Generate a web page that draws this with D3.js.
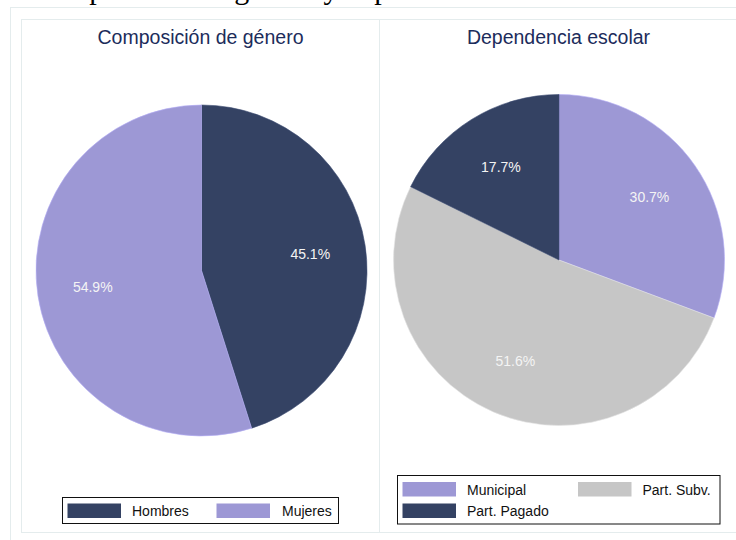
<!DOCTYPE html>
<html>
<head>
<meta charset="utf-8">
<script src="https://cdnjs.cloudflare.com/ajax/libs/d3/7.8.5/d3.min.js"></script>
<style>
  html, body { margin: 0; padding: 0; background: #fff; }
  svg { display: block; font-family: "Liberation Sans", Arial, sans-serif; }
</style>
</head>
<body>
<div id="chart"></div>
<script>
"use strict";

// == DATA ==
var genderLabels = ["Hombres", "Mujeres"];
var genderValues = [45.1, 54.9];
var schoolLabels = ["Municipal", "Part. Subv.", "Part. Pagado"];
var schoolValues = [30.7, 51.6, 17.7];
var panelTitles = ["Composición de género", "Dependencia escolar"];
var figureTitle = "Composición de género y dependencia escolar";

// == BOILERPLATE ==
var width = 736, height = 540;
var navy = "#344263", lavender = "#9d98d5", grey = "#c6c6c6";
var frameColor = "#e4eced";

var svg = d3.select("#chart")
  .append("svg")
  .attr("width", width)
  .attr("height", height);

// cut-off figure title (only descenders visible)
svg.append("text")
  .attr("x", 31)
  .attr("y", -1)
  .attr("font-family", "'Liberation Serif', 'Times New Roman', serif")
  .attr("font-size", 30)
  .attr("fill", "#000")
  .text(figureTitle);

// outer frame
svg.append("rect")
  .attr("x", 10.5).attr("y", 7.5)
  .attr("width", 760).attr("height", 560)
  .attr("fill", "none")
  .attr("stroke", frameColor);

// == PANELS ==
var panels = [
  { x: 21.5, title: panelTitles[0], labels: genderLabels, values: genderValues,
    colors: [navy, lavender], cx: 201.5, cy: 270.5 },
  { x: 379.5, title: panelTitles[1], labels: schoolLabels, values: schoolValues,
    colors: [lavender, grey, navy], cx: 559, cy: 260 }
];

panels.forEach(function (p) {
  svg.append("rect")
    .attr("x", p.x).attr("y", 19.5)
    .attr("width", 358).attr("height", 513)
    .attr("fill", "none")
    .attr("stroke", frameColor);

  svg.append("text")
    .attr("x", p.x + 179)
    .attr("y", 44)
    .attr("text-anchor", "middle")
    .attr("font-size", 19.5)
    .attr("fill", "#1c2c5b")
    .text(p.title);
});

var radius = 165.5;
var pie = d3.pie().sort(null).value(function (d) { return d; });
var arc = d3.arc().innerRadius(0).outerRadius(radius);
var labelArc = d3.arc().innerRadius(radius * 0.665).outerRadius(radius * 0.665);

panels.forEach(function (p) {
  var color = d3.scaleOrdinal().domain(p.labels).range(p.colors);
  var g = svg.append("g")
    .attr("transform", "translate(" + p.cx + "," + p.cy + ")");

  var slices = g.selectAll("g.slice")
    .data(pie(p.values))
    .enter()
    .append("g")
    .attr("class", "slice");

  slices.append("path")
    .attr("d", arc)
    .attr("fill", function (d, i) { return color(p.labels[i]); })
    .attr("stroke", function (d, i) { return d3.color(color(p.labels[i])).brighter(0.4); })
    .attr("stroke-width", 0.6);

  slices.append("text")
    .attr("transform", function (d) { return "translate(" + labelArc.centroid(d) + ")"; })
    .attr("text-anchor", "middle")
    .attr("dy", "0.36em")
    .attr("font-size", 14)
    .attr("fill", "#f4f4f4")
    .text(function (d) { return d.data.toFixed(1) + "%"; });
});

// == LEGENDS ==
function legend(box, items, colorOf) {
  svg.append("rect")
    .attr("x", box.x).attr("y", box.y)
    .attr("width", box.w).attr("height", box.h)
    .attr("fill", "#fff")
    .attr("stroke", "#111")
    .attr("stroke-width", 1);

  var lg = svg.selectAll(null)
    .data(items)
    .enter()
    .append("g")
    .attr("transform", function (d) { return "translate(" + d.x + "," + d.y + ")"; });

  lg.append("rect")
    .attr("width", 53.5).attr("height", 14.5)
    .attr("fill", function (d) { return colorOf(d.label); });

  lg.append("text")
    .attr("x", d => d.tx)
    .attr("y", 12.5)
    .attr("font-size", 14)
    .attr("fill", "#111")
    .text(function (d) { return d.label; });
}

var gColor = d3.scaleOrdinal().domain(genderLabels).range([navy, lavender]);
legend({ x: 62.5, y: 497.5, w: 276, h: 26 },
  [{ label: genderLabels[0], x: 67.5, y: 503.5, tx: 64.5 },
   { label: genderLabels[1], x: 216.5, y: 503.5, tx: 65.5 }], gColor);

var sColor = d3.scaleOrdinal().domain(schoolLabels).range([lavender, grey, navy]);
legend({ x: 397.5, y: 475.5, w: 322.5, h: 48.5 },
  [{ label: schoolLabels[0], x: 402.5, y: 482, tx: 64.5 },
   { label: schoolLabels[1], x: 578, y: 482, tx: 64.5 },
   { label: schoolLabels[2], x: 402.5, y: 503.5, tx: 64.5 }], sColor);
</script>
</body>
</html>
